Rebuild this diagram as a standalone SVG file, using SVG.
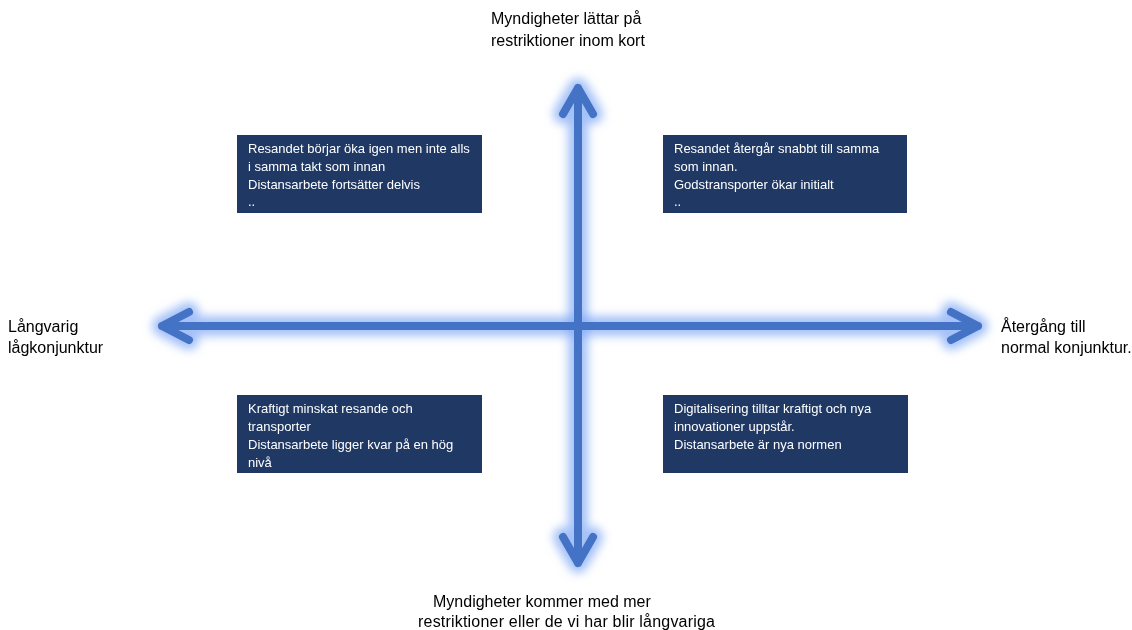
<svg xmlns="http://www.w3.org/2000/svg" width="1132" height="630" viewBox="0 0 1132 630">
<defs>
<style>
.lbl{font-family:"Liberation Sans",Arial,sans-serif;font-size:16px;fill:#000}
.bx{fill:#1F3864}
.bt{font-family:"Liberation Sans",Arial,sans-serif;font-size:13px;fill:#fff}
.ax{fill:none;stroke:#4472C4;stroke-width:8;stroke-linecap:round;stroke-linejoin:round}
.glow{fill:none;stroke:#7EA6F5;stroke-width:20;stroke-linecap:round;stroke-linejoin:round;opacity:0.7}
</style>
<filter id="blur" x="-20%" y="-20%" width="140%" height="140%">
<feGaussianBlur stdDeviation="5"/>
</filter>
</defs>
<rect width="1132" height="630" fill="#fff"/>
<g id="connectors">
<g filter="url(#blur)">
<path class="glow" d="M578 88 V563 M563 114 L578 88 L593 114 M563 537 L578 563 L593 537"/>
<path class="glow" d="M162 326 H978 M189 312 L162 326 L189 340 M951 312 L978 326 L951 340"/>
</g>
<path class="ax" d="M578 88 V563 M563 114 L578 88 L593 114 M563 537 L578 563 L593 537"/>
<path class="ax" d="M162 326 H978 M189 312 L162 326 L189 340 M951 312 L978 326 L951 340"/>
</g>
<g id="label-top">
<text class="lbl" x="491" y="24">Myndigheter lättar på</text>
<text class="lbl" x="491" y="46">restriktioner inom kort</text>
</g>
<g id="label-left">
<text class="lbl" x="8" y="332">Långvarig</text>
<text class="lbl" x="8" y="353">lågkonjunktur</text>
</g>
<g id="label-right">
<text class="lbl" x="1001" y="332">Återgång till</text>
<text class="lbl" x="1001" y="353">normal konjunktur.</text>
</g>
<g id="label-bottom">
<text class="lbl" x="433" y="607">Myndigheter kommer med mer</text>
<text class="lbl" x="418" y="627" textLength="297" lengthAdjust="spacing">restriktioner eller de vi har blir långvariga</text>
</g>
<g id="box-tl">
<rect class="bx" x="237" y="135" width="245" height="78"/>
<text class="bt" x="248" y="153">Resandet börjar öka igen men inte alls</text>
<text class="bt" x="248" y="171">i samma takt som innan</text>
<text class="bt" x="248" y="189">Distansarbete fortsätter delvis</text>
<text class="bt" x="248" y="206">..</text>
</g>
<g id="box-tr">
<rect class="bx" x="663" y="135" width="244" height="78"/>
<text class="bt" x="674" y="153">Resandet återgår snabbt till samma</text>
<text class="bt" x="674" y="171">som innan.</text>
<text class="bt" x="674" y="189">Godstransporter ökar initialt</text>
<text class="bt" x="674" y="206">..</text>
</g>
<g id="box-bl">
<rect class="bx" x="237" y="395" width="245" height="78"/>
<text class="bt" x="248" y="413">Kraftigt minskat resande och</text>
<text class="bt" x="248" y="431">transporter</text>
<text class="bt" x="248" y="449">Distansarbete ligger kvar på en hög</text>
<text class="bt" x="248" y="467">nivå</text>
</g>
<g id="box-br">
<rect class="bx" x="663" y="395" width="245" height="78"/>
<text class="bt" x="674" y="413">Digitalisering tilltar kraftigt och nya</text>
<text class="bt" x="674" y="431">innovationer uppstår.</text>
<text class="bt" x="674" y="449">Distansarbete är nya normen</text>
</g>
</svg>
